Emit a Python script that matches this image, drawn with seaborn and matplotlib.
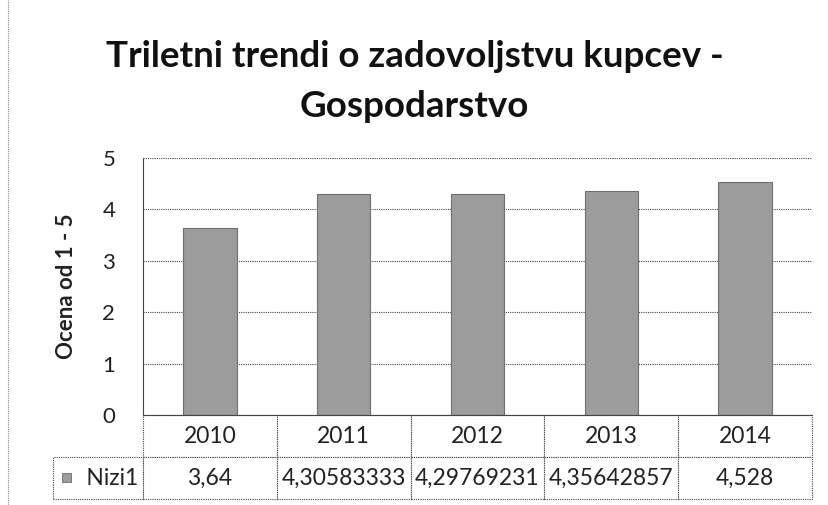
import matplotlib
matplotlib.use("Agg")
import matplotlib.pyplot as plt
from matplotlib.patches import Rectangle
from matplotlib.lines import Line2D
import seaborn as sns

years = ["2010", "2011", "2012", "2013", "2014"]
values = [3.64, 4.30583333, 4.29769231, 4.35642857, 4.528]
series_name = "Nizi1"
title = "Triletni trendi o zadovoljstvu kupcev -\nGospodarstvo"
y_label = "Ocena od 1 - 5"

sns.set_style("white")
plt.rcParams["font.family"] = ["Lato", "DejaVu Sans"]

fig = plt.figure(figsize=(8.29, 5.05), dpi=100)
ax = fig.add_axes([0.1725, 0.178, 0.807, 0.509])

bar_color = "#9c9c9c"
sns.barplot(x=years, y=values, color=bar_color, width=0.4, ax=ax,
            edgecolor="#6e6e6e", linewidth=0.8, saturation=1)

ax.set_ylim(0, 5)
ax.set_yticks(range(6))
ax.tick_params(axis="y", labelsize=16, length=0, pad=20, colors="#222222")
ax.set_xticks(range(len(years)))
ax.set_xticklabels([])
ax.tick_params(axis="x", length=0)
ax.set_xlabel("")
ax.set_ylabel(y_label, fontsize=16, fontweight="bold", labelpad=18, color="#222222")
ax.yaxis.grid(True, linestyle=(0, (1, 1)), color="#444444", linewidth=0.8)
ax.set_axisbelow(True)
for side in ["top", "right"]:
    ax.spines[side].set_visible(False)
for side in ["left", "bottom"]:
    ax.spines[side].set_linestyle((0, (1, 1)))
    ax.spines[side].set_color("#444444")
    ax.spines[side].set_linewidth(0.8)

# data table under the chart
labels = [str(v).replace(".", ",") for v in values]
label_w = 0.1345
tbl = ax.table(cellText=[[""] + years, ["     " + series_name] + labels],
               colWidths=[label_w] + [1 / len(years)] * len(years),
               cellLoc="center",
               bbox=[-label_w, -0.327, 1 + label_w, 0.327])
tbl.auto_set_font_size(False)
tbl.set_fontsize(16.5)
for (r, c), cell in tbl.get_celld().items():
    cell.set_edgecolor("#444444")
    cell.set_linewidth(0.8)
    cell.set_linestyle((0, (1, 1)))
    cell.get_text().set_color("#222222")
tbl[0, 0].visible_edges = ""

ax.add_patch(Rectangle((-0.121, -0.262), 0.0135, 0.035, transform=ax.transAxes,
                       facecolor=bar_color, edgecolor="#6e6e6e", lw=0.6,
                       clip_on=False))

fig.suptitle(title, fontsize=26.5, fontweight="bold", y=0.92, linespacing=1.6,
             color="#111111")

# scanned page border
fig.add_artist(Line2D([0.0097, 0.0097], [0.0, 1.0], color="#888888", lw=0.8,
                      linestyle=(0, (1, 1))))

fig.savefig("out.png", dpi=100)
